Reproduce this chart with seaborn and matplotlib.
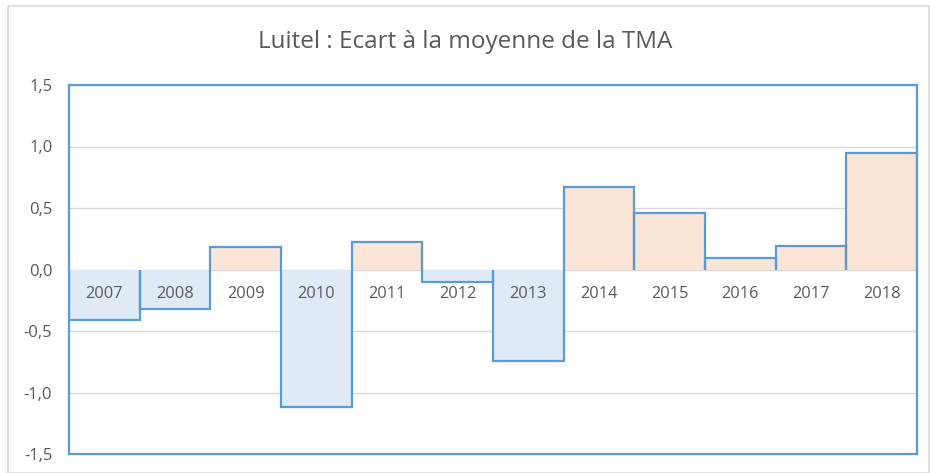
import matplotlib

matplotlib.use("Agg")
import matplotlib.pyplot as plt
import pandas as pd
import seaborn as sns
from matplotlib.patches import Rectangle

years = ["2007", "2008", "2009", "2010", "2011", "2012",
         "2013", "2014", "2015", "2016", "2017", "2018"]
ecart = [-0.41, -0.32, 0.18, -1.12, 0.22, -0.10,
         -0.74, 0.67, 0.46, 0.09, 0.19, 0.95]
y_ticks = [-1.5, -1.0, -0.5, 0.0, 0.5, 1.0, 1.5]

POS_COLOR = "#FBE5D6"
NEG_COLOR = "#DEEBF7"
LINE_COLOR = "#5B9BD5"
TEXT_COLOR = "#595959"

sns.set_theme(style="white")
plt.rcParams["font.family"] = ["Open Sans", "DejaVu Sans"]

df = pd.DataFrame({"annee": years, "ecart": ecart})
palette = {y: (POS_COLOR if v >= 0 else NEG_COLOR) for y, v in zip(years, ecart)}

fig = plt.figure(figsize=(9.3, 4.73), dpi=100)
fig.patches.append(Rectangle((8 / 930, 0), 921 / 930, 467 / 473, transform=fig.transFigure,
                             fill=False, edgecolor="#D9D9D9", linewidth=1.2))
ax = fig.add_axes([69 / 930, 19 / 473, 848 / 930, 369 / 473])

for t in y_ticks:
    ax.axhline(t, color="#D9D9D9", linewidth=1.0, zorder=0)

sns.barplot(data=df, x="annee", y="ecart", hue="annee", palette=palette,
            width=1.0, legend=False, linewidth=0, saturation=1, ax=ax, zorder=1)

# contour de chaque barre sur trois côtés (pas de trait sur la ligne zéro)
for i, v in enumerate(ecart):
    ax.stairs([v], [i - 0.5, i + 0.5], baseline=0, color=LINE_COLOR, linewidth=1.6, zorder=3)

ax.set_xlim(-0.5, len(years) - 0.5)
ax.set_ylim(-1.5, 1.5)
ax.set_yticks(y_ticks)
ax.set_yticklabels([f"{t:.1f}".replace(".", ",") for t in y_ticks],
                   fontsize=12, color=TEXT_COLOR)
ax.tick_params(axis="y", length=0, pad=12)
ax.set_xticks([])
ax.set_xlabel("")
ax.set_ylabel("")

for i, y in enumerate(years):
    ax.text(i, -0.2, y, ha="center", va="center", fontsize=11.8, color=TEXT_COLOR, zorder=4)

for side in ax.spines.values():
    side.set_visible(True)
    side.set_color(LINE_COLOR)
    side.set_linewidth(1.6)
    side.set_zorder(5)

fig.text(0.5, 1 - 42 / 473, "Luitel : Ecart à la moyenne de la TMA",
         ha="center", va="center", fontsize=17.5, color=TEXT_COLOR)

fig.savefig("out.png", dpi=100)
